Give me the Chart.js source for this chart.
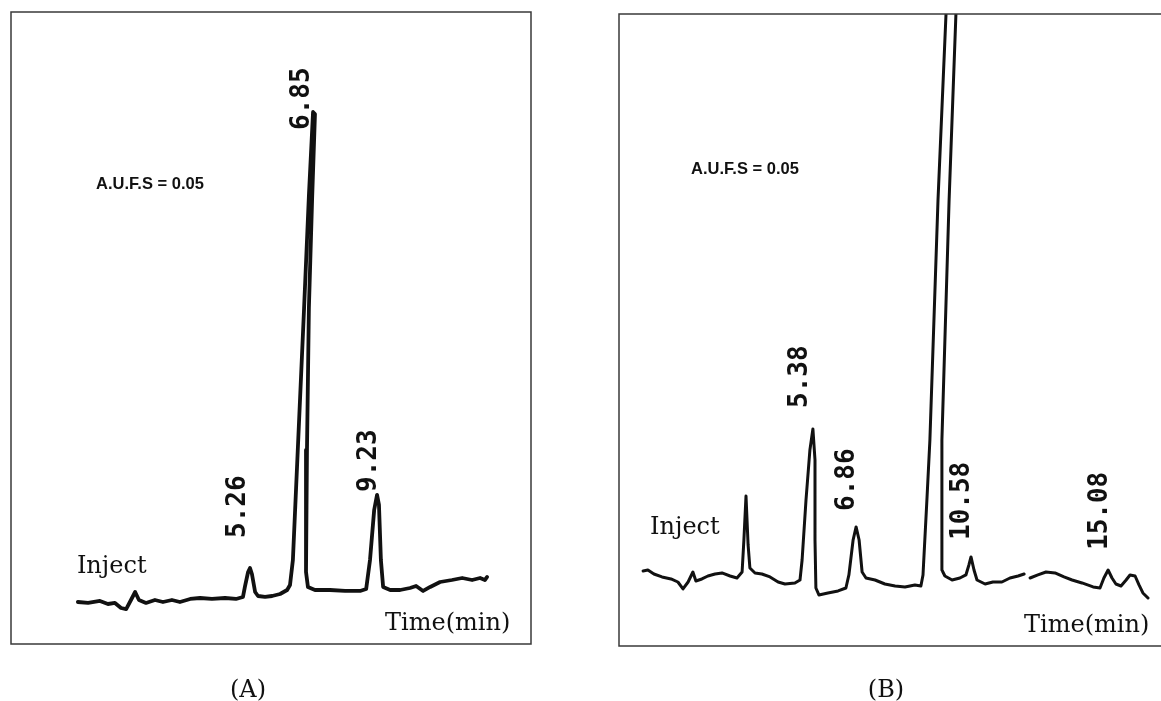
<!DOCTYPE html>
<html><head><meta charset="utf-8">
<script src="https://cdn.jsdelivr.net/npm/chart.js@4.4.1/dist/chart.umd.min.js"></script>
<style>
html,body{margin:0;padding:0;background:#fff;width:1161px;height:701px;overflow:hidden}
canvas{position:absolute;top:0}
#cA{left:0}
#cB{left:580px}
</style></head><body>
<canvas id="cA" width="580" height="701"></canvas>
<canvas id="cB" width="581" height="701"></canvas>
<script>
// ---------- data (time in min, detector signal in arbitrary units) ----------
const timesA = [-0.13,0.19,0.56,0.81,1.03,1.22,1.38,1.53,1.66,1.78,2.0,2.28,2.53,2.81,3.06,3.38,3.69,4.06,4.47,4.81,
  5.03,5.09,5.19,5.25,5.31,5.41,5.5,5.72,5.94,6.19,6.41,6.5,6.59,6.94,7.09,7.22,7.28,7.19,7.09,7.03,7.0,7.06,7.28,
  7.75,8.22,8.69,8.88,9.0,9.13,9.22,9.28,9.34,9.41,9.63,9.94,10.25,10.44,10.66,10.88,11.19,11.56,11.88,12.19,12.44,12.59,12.66];
const signalA = [0.25,0.13,0.38,0,0.13,-0.5,-0.63,0.5,1.5,0.5,0.13,0.5,0.25,0.5,0.25,0.63,0.75,0.63,0.75,0.63,
  0.88,2.13,4.0,4.5,3.75,1.5,1.0,0.88,1.0,1.25,1.75,2.38,5.5,37.0,51.0,61.5,61.25,50.5,37.0,19.25,4.0,2.13,1.75,
  1.75,1.63,1.63,1.88,5.5,11.75,13.63,12.38,5.5,2.13,1.75,1.75,2.0,2.25,1.63,2.13,2.75,3.0,3.25,3.0,3.25,3.0,3.38];
const peakLabelsA = ['5.26','6.85','9.23'];

const timesB = [-0.23,-0.07,0.13,0.4,0.7,0.93,1.1,1.27,1.43,1.53,1.73,1.93,2.17,2.4,2.67,2.9,3.07,3.13,3.2,3.27,3.33,
  3.5,3.73,4.0,4.27,4.5,4.83,5.0,5.07,5.2,5.33,5.43,5.5,5.5,5.53,5.63,5.93,6.27,6.53,6.63,6.77,6.87,6.97,7.07,7.2,
  7.5,7.83,8.17,8.5,8.83,9.03,9.1,9.23,9.33,9.6,9.87,10.03,10.33,10.2,9.97,9.73,9.73,9.83,10.07,10.33,10.53,10.63,
  10.7,10.8,10.9,11.17,11.43,11.73,12.0,12.27,12.47,12.57,12.67,12.93,13.2,13.5,13.8,14.07,14.4,14.77,15.0,15.13,
  15.27,15.4,15.53,15.7,15.87,16.0,16.17,16.3,16.43,16.6];
const signalB = [4.13,4.25,3.75,3.38,3.13,2.75,1.88,2.75,4.0,2.88,3.13,3.5,3.75,3.88,3.5,3.25,4.0,8.0,13.5,7.38,4.5,
  3.88,3.75,3.38,2.75,2.5,2.63,3.0,5.5,13.0,19.25,21.88,18.0,8.0,2.0,1.13,1.38,1.63,2.0,3.63,8.0,9.63,8.0,4.0,3.25,
  3.0,2.5,2.25,2.13,2.38,2.25,3.63,13.0,20.5,50.5,74.0,90.5,90.5,74.0,50.5,20.5,4.25,3.5,3.0,3.25,3.63,4.88,
  5.88,4.25,3.0,2.5,2.75,2.75,3.25,3.5,3.75,null,3.25,3.63,4.0,3.88,3.38,3.0,2.63,2.13,2.0,3.25,
  4.25,3.25,2.5,2.25,3.0,3.63,3.5,2.38,1.38,0.75];
const peakLabelsB = ['5.38','6.86','10.58','15.08'];

const panelTitles = ['(A)', '(B)'];
const aufsText = 'A.U.F.S = 0.05';
const injectText = 'Inject';
const timeAxisText = 'Time(min)';

// ---------- layout / style (kept apart from the data) ----------
const layoutA = {
  xRange: [-2.219, 14.031], yRange: [-5, 74],
  padding: {left: 11, top: 12, right: 49, bottom: 57},
  labelAnchors: [[4.81, 8.25], [6.81, 59.25], [8.88, 14]],
  aufsAt: [0.44, 52.5], injectAt: [-0.16, 3.9], timeAt: [9.47, -3.25],
  titleX: 248, rightBorder: true, lineWidth: 3.8
};
const layoutB = {
  xRange: [-1.0333, 17.0333], yRange: [-5.25, 73.75],
  padding: {left: 39, top: 14, right: 0, bottom: 55},
  labelAnchors: [[4.93, 24.5], [6.5, 11.63], [10.33, 8], [14.93, 6.75]],
  aufsAt: [1.37, 54.38], injectAt: [0, 8.75], timeAt: [12.47, -3.5],
  titleX: 306, rightBorder: false, lineWidth: 3.0
};

const INK = '#111111';
const decor = {
  id: 'decor',
  afterDatasetsDraw(chart, args, o) {
    const {ctx, chartArea: a, scales: {x, y}} = chart;
    const L = o.layout;
    ctx.save();
    // frame
    ctx.strokeStyle = '#3a3a3a';
    ctx.lineWidth = 1.5;
    ctx.beginPath();
    if (L.rightBorder) {
      ctx.rect(a.left, a.top, a.right - a.left, a.bottom - a.top);
    } else {
      ctx.moveTo(a.right + 2, a.top); ctx.lineTo(a.left, a.top);
      ctx.lineTo(a.left, a.bottom); ctx.lineTo(a.right + 2, a.bottom);
    }
    ctx.stroke();
    ctx.fillStyle = INK;
    // A.U.F.S
    ctx.font = 'bold 16.5px "Liberation Sans", Arial, sans-serif';
    ctx.textAlign = 'left'; ctx.textBaseline = 'middle';
    ctx.fillText(aufsText, x.getPixelForValue(L.aufsAt[0]), y.getPixelForValue(L.aufsAt[1]));
    // Inject / Time(min)
    ctx.font = '24px "DejaVu Serif", serif';
    ctx.textBaseline = 'alphabetic';
    ctx.fillText(injectText, x.getPixelForValue(L.injectAt[0]), y.getPixelForValue(L.injectAt[1]));
    ctx.fillText(timeAxisText, x.getPixelForValue(L.timeAt[0]), y.getPixelForValue(L.timeAt[1]));
    // rotated retention-time labels
    ctx.font = 'bold 26px "DejaVu Sans Mono", monospace';
    o.labels.forEach((txt, i) => {
      const [tx, ty] = L.labelAnchors[i];
      const px = x.getPixelForValue(tx), py = y.getPixelForValue(ty);
      ctx.save();
      ctx.translate(px + 9.5, py);
      ctx.rotate(-Math.PI / 2);
      ctx.textAlign = 'left'; ctx.textBaseline = 'alphabetic';
      ctx.fillText(txt, 0, 0);
      ctx.restore();
    });
    // panel title
    ctx.font = '24px "DejaVu Serif", serif';
    ctx.textAlign = 'center'; ctx.textBaseline = 'alphabetic';
    ctx.fillText(o.title, L.titleX, 697);
    ctx.restore();
  }
};

function makePanel(id, times, signal, labels, title, L) {
  const pts = times.map((t, i) => ({x: t, y: signal[i]}));
  return new Chart(document.getElementById(id), {
    type: 'line',
    data: {datasets: [{
      data: pts, borderColor: INK, borderWidth: L.lineWidth, pointRadius: 0,
      tension: 0, fill: false, spanGaps: false, clip: 0,
      borderJoinStyle: 'round', borderCapStyle: 'round'
    }]},
    options: {
      responsive: false, animation: false, devicePixelRatio: 1,
      layout: {padding: L.padding},
      scales: {
        x: {type: 'linear', display: false, min: L.xRange[0], max: L.xRange[1]},
        y: {type: 'linear', display: false, min: L.yRange[0], max: L.yRange[1]}
      },
      plugins: {legend: {display: false}, tooltip: {enabled: false}, title: {display: false},
        decor: {layout: L, labels: labels, title: title}}
    },
    plugins: [decor]
  });
}
makePanel('cA', timesA, signalA, peakLabelsA, panelTitles[0], layoutA);
makePanel('cB', timesB, signalB, peakLabelsB, panelTitles[1], layoutB);
</script>
</body></html>
